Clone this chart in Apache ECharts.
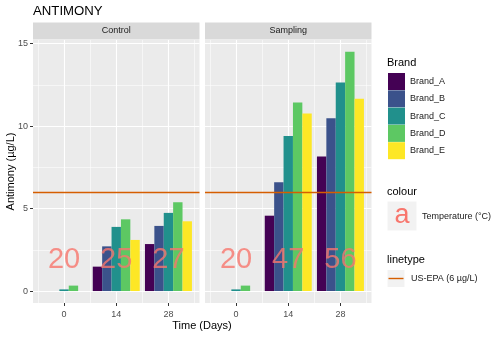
<!DOCTYPE html>
<html>
<head>
<meta charset="utf-8">
<script src="https://cdn.jsdelivr.net/npm/echarts@6/dist/echarts.min.js"></script>
<style>
  html, body { margin: 0; padding: 0; background: #fff; }
  #main { width: 500px; height: 337px; }
</style>
</head>
<body>
<div id="main"></div>
<script>
// data
var days = [0, 14, 28];
var panels = ['Control', 'Sampling'];
var brands = ['Brand_A', 'Brand_B', 'Brand_C', 'Brand_D', 'Brand_E'];
var brandColors = ['#440154', '#3B528B', '#21908C', '#5DC863', '#FDE725'];

// antimony per brand, values at day 0 / 14 / 28
var controlVals = [
  [0, 1.48, 2.85],
  [0, 2.71, 3.95],
  [0.1, 3.89, 4.74],
  [0.33, 4.35, 5.38],
  [0, 3.1, 4.23]
];
var samplingVals = [
  [0, 4.57, 8.16],
  [0, 6.6, 10.48],
  [0.1, 9.41, 12.65],
  [0.33, 11.43, 14.51],
  [0, 10.77, 11.66]
];
var controlTemp = [20, 25, 27];
var samplingTemp = [20, 47, 56];
var tempLabelY = 1.9;
var epaLimit = 6;

var xBreaks = [0, 14, 28];
var xMinor = [-7, 7, 21, 35];
var yBreaks = [0, 5, 10, 15];
var yMinor = [2.5, 7.5, 12.5];

var font = 'Liberation Sans, Arial, sans-serif';
var lineCol = '#D55E00';
var tempCol = '#F8766D';

var chartDom = document.getElementById('main');
var myChart = echarts.init(chartDom, null, { renderer: 'canvas' });

var panelLeft = [33, 205];
var panelW = 166.5;
var panelTop = 40;
var panelH = 263;

var grids = [], xAxes = [], yAxes = [], series = [], graphics = [];

function gridLine(key, v, major) {
  var o = { lineStyle: { color: '#FFFFFF', width: major ? 1.1 : 0.55, type: 'solid' } };
  o[key] = v;
  return o;
}

for (var p = 0; p < 2; p++) {
  grids.push({
    left: panelLeft[p], top: panelTop, width: panelW, height: panelH,
    show: true, backgroundColor: '#EBEBEB', borderWidth: 0
  });
  xAxes.push({
    type: 'value', gridIndex: p, min: -8.33, max: 36.33,
    axisLine: { show: false, onZero: false },
    splitLine: { show: false },
    axisTick: { show: true, customValues: xBreaks, length: 3, lineStyle: { color: '#333', width: 1 } },
    axisLabel: { customValues: xBreaks, color: '#4D4D4D', fontSize: 9, fontFamily: font, margin: 7 }
  });
  yAxes.push({
    type: 'value', gridIndex: p, min: -0.725, max: 15.225,
    axisLine: { show: false, onZero: false },
    splitLine: { show: false },
    axisTick: { show: p === 0, customValues: yBreaks, length: 3, lineStyle: { color: '#333', width: 1 } },
    axisLabel: { show: p === 0, customValues: yBreaks, color: '#4D4D4D', fontSize: 9, fontFamily: font, margin: 5 }
  });

  // white panel grid lines, kept under the bars
  var gl = [];
  xMinor.forEach(function (v) { gl.push(gridLine('xAxis', v, false)); });
  yMinor.forEach(function (v) { gl.push(gridLine('yAxis', v, false)); });
  xBreaks.forEach(function (v) { gl.push(gridLine('xAxis', v, true)); });
  yBreaks.forEach(function (v) { gl.push(gridLine('yAxis', v, true)); });
  series.push({
    type: 'line', xAxisIndex: p, yAxisIndex: p, silent: true, z: 0,
    showSymbol: false, lineStyle: { opacity: 0 },
    data: [[0, 0]],
    markLine: { silent: true, z: 0, symbol: ['none', 'none'], label: { show: false }, animation: false, data: gl }
  });

  var vals = p === 0 ? controlVals : samplingVals;
  for (var b = 0; b < brands.length; b++) {
    series.push({
      name: brands[b], type: 'bar', xAxisIndex: p, yAxisIndex: p, z: 3,
      barCategoryGap: '10%', barGap: '0%',
      itemStyle: { color: brandColors[b] },
      data: days.map(function (d, i) { return [d, vals[b][i]]; })
    });
  }

  var temps = p === 0 ? controlTemp : samplingTemp;
  series.push({
    type: 'scatter', xAxisIndex: p, yAxisIndex: p, symbolSize: 0, z: 6, silent: true,
    data: days.map(function (d, i) { return [d, tempLabelY, temps[i]]; }),
    label: {
      show: true, position: 'inside', color: tempCol, fontSize: 29, fontFamily: font,
      formatter: function (pr) { return pr.value[2]; }
    },
    markLine: {
      silent: true, z: 5, symbol: ['none', 'none'], label: { show: false },
      lineStyle: { color: lineCol, width: 1.4, type: 'solid' },
      data: [{ yAxis: epaLimit }]
    }
  });

  // facet strip
  graphics.push({ type: 'rect', shape: { x: panelLeft[p], y: 22.5, width: panelW, height: 17 }, style: { fill: '#D9D9D9' } });
  graphics.push({ type: 'text', x: panelLeft[p] + panelW / 2, y: 31,
    style: { text: panels[p], fill: '#1A1A1A', font: '9px ' + font, align: 'center', verticalAlign: 'middle' } });
}

// titles
graphics.push({ type: 'text', x: 33, y: 11, style: { text: 'ANTIMONY', fill: '#000', font: '13.2px ' + font, verticalAlign: 'middle' } });
graphics.push({ type: 'text', x: 202, y: 326, style: { text: 'Time (Days)', fill: '#000', font: '11px ' + font, align: 'center', verticalAlign: 'middle' } });
graphics.push({ type: 'text', x: 11, y: 171.5, rotation: Math.PI / 2,
  style: { text: 'Antimony (µg/L)', fill: '#000', font: '11px ' + font, align: 'center', verticalAlign: 'middle' } });

// legend titles and the extra keys
graphics.push({ type: 'text', x: 387, y: 63, style: { text: 'Brand', fill: '#000', font: '11px ' + font, verticalAlign: 'middle' } });
graphics.push({ type: 'text', x: 387, y: 192, style: { text: 'colour', fill: '#000', font: '11px ' + font, verticalAlign: 'middle' } });
graphics.push({ type: 'rect', shape: { x: 387.5, y: 201.5, width: 29, height: 29 }, style: { fill: '#F2F2F2' } });
graphics.push({ type: 'text', x: 402, y: 216, style: { text: 'a', fill: tempCol, font: '27px ' + font, align: 'center', verticalAlign: 'middle' } });
graphics.push({ type: 'text', x: 422, y: 217, style: { text: 'Temperature (°C)', fill: '#1A1A1A', font: '9px ' + font, verticalAlign: 'middle' } });
graphics.push({ type: 'text', x: 387, y: 260, style: { text: 'linetype', fill: '#000', font: '11px ' + font, verticalAlign: 'middle' } });
graphics.push({ type: 'rect', shape: { x: 387.5, y: 270, width: 17, height: 17 }, style: { fill: '#F2F2F2' } });
graphics.push({ type: 'line', shape: { x1: 388.5, y1: 278.5, x2: 403.5, y2: 278.5 }, style: { stroke: lineCol, lineWidth: 1.4 } });
graphics.push({ type: 'text', x: 411, y: 279, style: { text: 'US-EPA (6 µg/L)', fill: '#1A1A1A', font: '9px ' + font, verticalAlign: 'middle' } });

var option = {
  animation: false,
  backgroundColor: '#FFFFFF',
  grid: grids,
  xAxis: xAxes,
  yAxis: yAxes,
  legend: {
    data: brands,
    orient: 'vertical',
    left: 388, top: 73,
    padding: 0,
    itemWidth: 17, itemHeight: 17, itemGap: 0.3,
    icon: 'rect',
    selectedMode: false,
    textStyle: { fontSize: 9, color: '#1A1A1A', fontFamily: font }
  },
  graphic: graphics,
  series: series
};

option && myChart.setOption(option);
</script>
</body>
</html>
